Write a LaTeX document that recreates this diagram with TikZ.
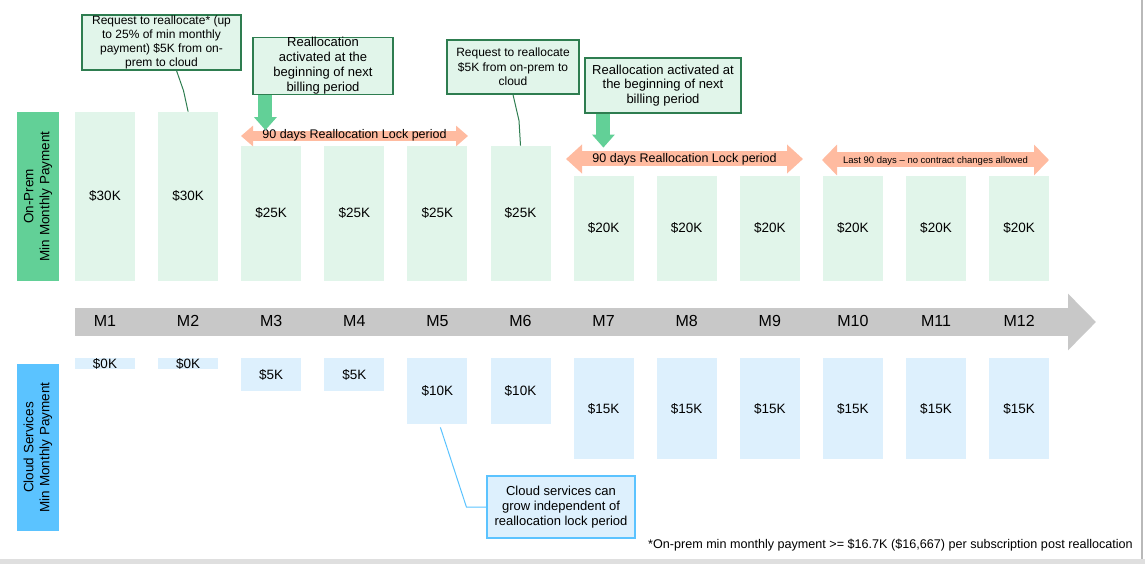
\documentclass[tikz,border=0pt]{standalone}
\usepackage{fontspec}
\setmainfont{Liberation Sans}
\usetikzlibrary{arrows.meta,calc}
\definecolor{verde}{HTML}{62D097}
\definecolor{verdeclaro}{HTML}{E1F5EA}
\definecolor{verdeborde}{HTML}{2E7D50}
\definecolor{azul}{HTML}{5BC3FF}
\definecolor{azulclaro}{HTML}{DDF0FD}
\definecolor{salmon}{HTML}{FFBBA0}
\definecolor{gris}{HTML}{C8C8C8}

\begin{document}
\begin{tikzpicture}[x=1pt,y=-1pt,
    bar/.style={rectangle,minimum width=60pt,inner sep=0pt,font=\fontsize{13.5}{16}\selectfont},
    opbar/.style={bar,fill=verdeclaro,anchor=south},
    cbar/.style={bar,fill=azulclaro,anchor=north},
    sidelab/.style={rectangle,rotate=90,minimum height=42pt,inner sep=0pt,align=center,font=\fontsize{13.5}{16}\selectfont},
    callout/.style={rectangle,draw=verdeborde,fill=verdeclaro,line width=1.2pt,inner sep=0pt,align=center},
    lockarr/.style n args={3}{salmon,line width=#1,{Triangle[width=#2,length=#3]}-{Triangle[width=#2,length=#3]}},
    downarr/.style={verde,line width=14pt,-{Triangle[width=22pt,length=13pt]}}]
  \useasboundingbox (0,0) rectangle (1145,564);
  \fill[gray!25] (0,559) rectangle (1145,564);
  \draw[gray!55,line width=1.5pt] (1142,0) -- (1142,559);

  \node[sidelab,fill=verde,minimum width=169pt] (onprem) at (38,196.5) {On-Prem\\Min Monthly Payment};
  \node[sidelab,fill=azul,minimum width=167pt] (cloud) at (38,447.5) {Cloud Services\\Min Monthly Payment};

  \foreach \i/\top/\v in {1/112/30,2/112/30,3/146/25,4/146/25,5/146/25,6/146/25,7/176/20,8/176/20,9/176/20,10/176/20,11/176/20,12/176/20}{
    \node[opbar,minimum height={281-\top}] (p\i) at ({105+83.1*(\i-1)},281) {\$\v K};
  }
  \foreach \i/\h/\v in {1/5/0,2/5/0,3/33/5,4/33/5,5/66/10,6/66/10,7/101/15,8/101/15,9/101/15,10/101/15,11/101/15,12/101/15}{
    \node[cbar,minimum height=\h] (c\i) at ({105+83.1*(\i-1)},358) {\$\v K};
  }

  \coordinate (tl0) at (75,322);
  \coordinate (tl1) at (1096,322);
  \draw[gris,line width=28pt,-{Triangle[width=55pt,length=28pt]}] (tl0) -- (tl1);
  \foreach \i in {1,...,12}
    \node[font=\fontsize{16}{18}\selectfont] (m\i) at ({105+83.1*(\i-1)},321) {M\i};

  \draw[lockarr={10pt}{20pt}{12pt}] (241,136) -- (468,136);
  \node[font=\fontsize{12.5}{14}\selectfont] (lock1) at (354.5,135.5) {90 days Reallocation Lock period};
  \draw[lockarr={15pt}{28pt}{16pt}] (566,159) -- (803,159);
  \node[font=\fontsize{12.5}{14}\selectfont] (lock2) at (684.5,159) {90 days Reallocation Lock period};
  \draw[lockarr={15pt}{30pt}{15pt}] (822,160) -- (1049,160);
  \node[font=\fontsize{9.5}{11}\selectfont] (lock3) at (935.5,161) {Last 90 days -- no contract changes allowed};

  \node[callout,minimum width=159pt,minimum height=55pt,font=\fontsize{12}{14}\selectfont] (req1) at (161.5,42.5)
    {Request to reallocate* (up\\to 25\% of min monthly\\payment) \$5K from on-\\prem to cloud};
  \draw[verdeborde,line width=1pt] ([xshift=15pt]req1.south) -- ++(7,20) -- (p2.north);

  \node[callout,minimum width=140pt,minimum height=54pt,font=\fontsize{13}{15}\selectfont] (act1) at (323,66)
    {Reallocation\\activated at the\\beginning of next\\billing period};
  \draw[downarr] ([xshift=13pt]act1.south west) -- ++(0,35);

  \node[callout,minimum width=132pt,minimum height=54pt,font=\fontsize{12}{14.5}\selectfont] (req2) at (513,67)
    {Request to reallocate\\\$5K from on-prem to\\cloud};
  \draw[verdeborde,line width=1pt] (req2.south) -- ++(6,26) -- (p6.north);

  \node[callout,minimum width=156pt,minimum height=55pt,font=\fontsize{13}{14.5}\selectfont] (act2) at (663,85.5)
    {Reallocation activated at\\the beginning of next\\billing period};
  \draw[downarr] ([xshift=19pt]act2.south west) -- ++(0,34);

  \node[callout,draw=azul,fill=azulclaro,minimum width=148pt,minimum height=62pt,font=\fontsize{13}{15}\selectfont] (cnote) at (561,507)
    {Cloud services can\\grow independent of\\reallocation lock period};
  \draw[azul,line width=1pt] (cnote.west) -- ++(-20,0) -- ([xshift=3pt,yshift=-3pt]c5.south);

  \node[anchor=east,inner sep=0pt,font=\fontsize{12.6}{14}\selectfont] (foot) at (1133,545)
    {*On-prem min monthly payment >= \$16.7K (\$16,667) per subscription post reallocation};
\end{tikzpicture}
\end{document}
